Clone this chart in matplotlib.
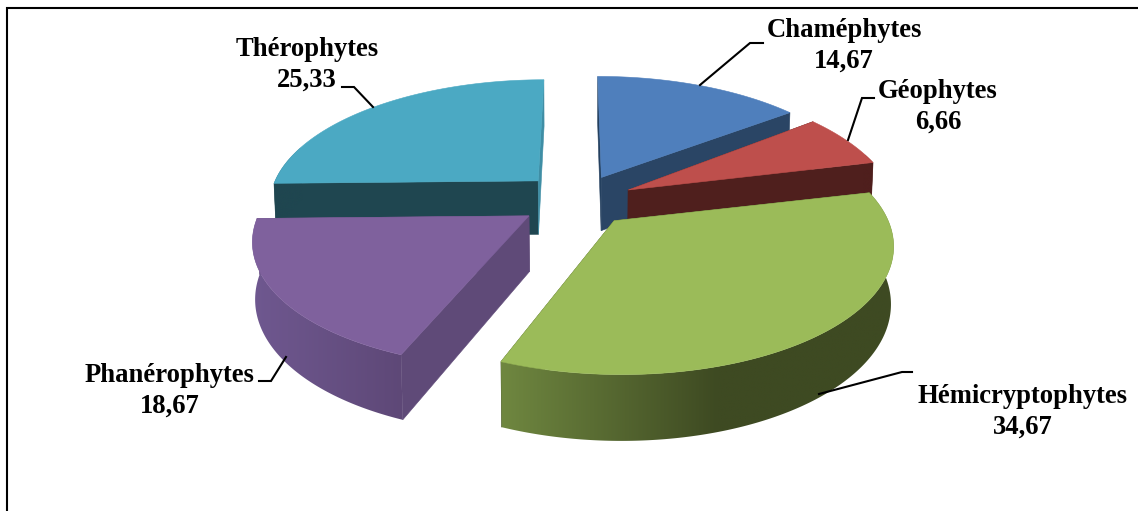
"""
Camembert 3D éclaté des types biologiques
"""
import numpy as np
import matplotlib.pyplot as plt
from matplotlib.colors import LinearSegmentedColormap
from matplotlib.patches import Polygon

# données
labels = ["Chaméphytes", "Géophytes", "Hémicryptophytes", "Phanérophytes", "Thérophytes"]
values = [14.67, 6.66, 34.67, 18.67, 25.33]
value_labels = ["14,67", "6,66", "34,67", "18,67", "25,33"]

# couleurs des faces
top_colors = ["#4F7FBC", "#BE4F4C", "#9BBB59", "#7F619D", "#4BA9C3"]
# paroi radiale à l'angle de début et à l'angle de fin de chaque part
start_walls = ["#24405F", "#4F1F1D", "#3E4A22", "#5F4A78", "#1F4650"]
end_walls = ["#2A4565", "#4F1F1D", "#3E4A22", "#5F4A78", "#3F8EA5"]
# dégradé du bord extérieur, de gauche à droite
rim_left = ["#2A4565", "#4F1F1D", "#6F8740", "#6F5890", "#1F4650"]
rim_right = ["#2A4565", "#4F1F1D", "#3E4A22", "#5E4877", "#1F4650"]
rim_fade = [1.0, 1.0, 0.55, 1.0, 1.0]

# décalage du centre et rayons de chaque part, en unités du camembert
offset_x = [0.092, 0.190, 0.132, -0.172, -0.146]
offset_y = [0.162, 0.057, -0.185, -0.148, 0.133]
radius_x = [1.00, 0.98, 0.975, 0.97, 0.99]
radius_y = [1.01, 1.03, 0.96, 0.96, 1.00]

# position des étiquettes et des traits de rappel (pixels)
label_pos = [(844, 46), (938, 107), (1023, 412), (170, 391), (307, 65)]
leaders = [
    [(700, 85), (750, 43), (763, 43)],
    [(848, 140), (862, 98), (874, 98)],
    [(819, 394), (902, 372), (912, 372)],
    [(286, 357), (271, 381), (259, 381)],
    [(373, 107), (354, 87), (342, 87)],
]

# ordre de dessin, de l'arrière vers l'avant
draw_order = [4, 0, 1, 3, 2]

# paramètres de la vue
CX, CY = 577, 197
SCALE = 272
SQUASH = 124
PERSP = 0.175
THICK = 55
SHRINK = 0.008


def project(x, y, z):
    """ Projette un point du camembert (z=0 dessus, z=1 dessous) en pixels """
    w = 1 + PERSP * y + SHRINK * z
    return CX + SCALE * x / w, CY - SQUASH * y / w + THICK * z / w


def draw_rim(ax, tx, ty, bx, by, i):
    """ Bord extérieur : dégradé horizontal découpé selon le contour de la part """
    if len(tx) < 2:
        return
    outline = np.c_[np.r_[tx, bx[::-1]], np.r_[ty, by[::-1]]]
    left, right = outline[:, 0].min(), outline[:, 0].max()
    top, bottom = outline[:, 1].min(), outline[:, 1].max()

    cmap = LinearSegmentedColormap.from_list(
        "rim", [(0, rim_left[i]), (rim_fade[i], rim_right[i]), (1, rim_right[i])])
    img = ax.imshow(np.linspace(0, 1, 256)[None, :], cmap=cmap, aspect="auto",
                    extent=(left, right, bottom, top), interpolation="bilinear",
                    zorder=1)
    patch = Polygon(outline, closed=True, facecolor="none", edgecolor="none",
                    transform=ax.transData, zorder=0)
    ax.add_patch(patch)
    img.set_clip_path(patch)


def draw_slice(ax, start, end, i):
    """ Dessine une part : parois radiales, bord extérieur puis dessus """
    ox, oy = offset_x[i], offset_y[i]
    theta = np.radians(np.linspace(start, end, 240))
    xs = ox + radius_x[i] * np.sin(theta)
    ys = oy + radius_y[i] * np.cos(theta)

    tx, ty = project(xs, ys, 0)
    bx, by = project(xs, ys, 1)
    cx0, cy0 = project(ox, oy, 0)
    cx1, cy1 = project(ox, oy, 1)

    # parois radiales
    ax.fill([cx0, tx[0], bx[0], cx1], [cy0, ty[0], by[0], cy1],
            color=start_walls[i], lw=0.4, zorder=1)
    ax.fill([cx0, tx[-1], bx[-1], cx1], [cy0, ty[-1], by[-1], cy1],
            color=end_walls[i], lw=0.4, zorder=1)

    # le bord n'est visible que sur la partie tournée vers l'avant
    front = np.cos(theta) < 0.3
    draw_rim(ax, tx[front], ty[front], bx[front], by[front], i)

    # dessus
    ax.fill(np.r_[cx0, tx], np.r_[cy0, ty], color=top_colors[i], lw=0.4, zorder=1)


def main():
    fig = plt.figure(figsize=(11.38, 5.11), dpi=100)
    ax = fig.add_axes([0, 0, 1, 1])

    edges = np.r_[0, np.cumsum(values)] / np.sum(values) * 360
    for i in draw_order:
        draw_slice(ax, edges[i], edges[i + 1], i)

    ax.set_xlim(0, 1138)
    ax.set_ylim(511, 0)
    ax.axis("off")

    # traits de rappel
    for line in leaders:
        px, py = zip(*line)
        ax.plot(px, py, color="black", lw=1.5, solid_joinstyle="miter", zorder=2)

    # étiquettes
    for name, val, (lx, ly) in zip(labels, value_labels, label_pos):
        ax.text(lx, ly, f"{name}\n{val}", ha="center", va="center", fontsize=19.2,
                fontweight="bold", family="Liberation Serif", linespacing=1.27,
                color="black")

    # cadre du graphique (gauche et haut)
    ax.plot([7.5, 7.5, 1138], [511, 8.5, 8.5], color="black", lw=1.5,
            solid_joinstyle="miter", zorder=2)

    fig.savefig("out.png", dpi=100)


if __name__ == "__main__":
    main()
